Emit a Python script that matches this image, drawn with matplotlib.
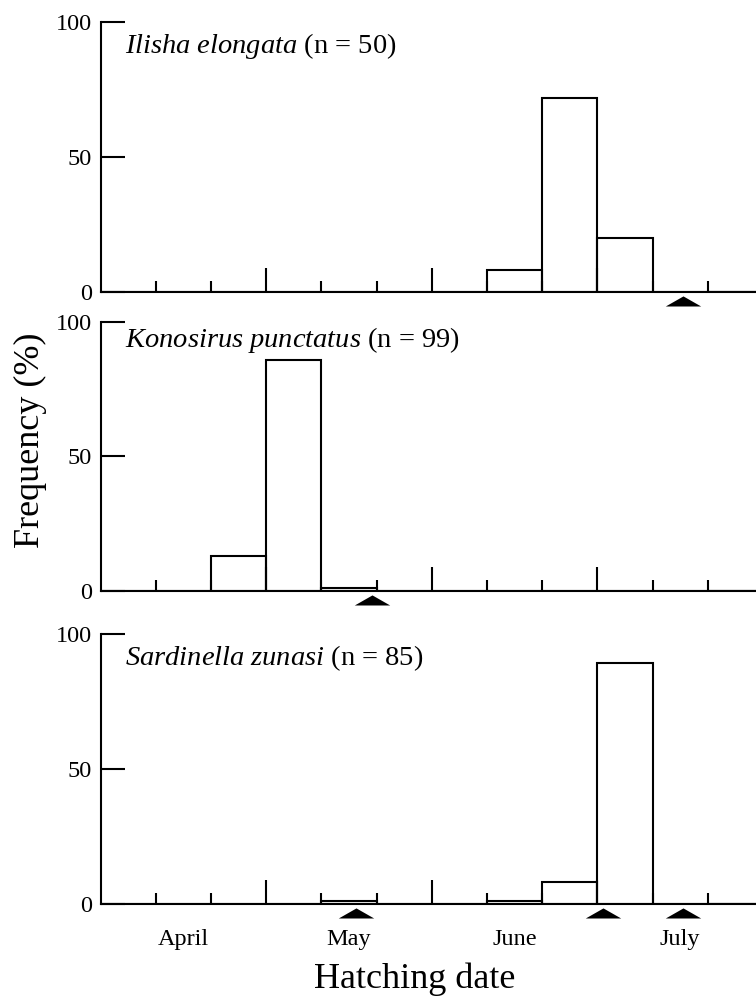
import matplotlib
matplotlib.use("Agg")
import matplotlib.pyplot as plt

plt.rcParams['font.family'] = ['Liberation Serif', 'DejaVu Serif']
plt.rcParams['mathtext.fontset'] = 'custom'
plt.rcParams['mathtext.rm'] = 'Liberation Serif'
plt.rcParams['mathtext.it'] = 'Liberation Serif:italic'

# Data: 10-day bins starting 1 April (bin index 0 = early April)
species = ["Ilisha elongata", "Konosirus punctatus", "Sardinella zunasi"]
sample_n = [50, 99, 85]
bin_starts = list(range(12))
freq_ilisha = [0, 0, 0, 0, 0, 0, 0, 8, 72, 20, 0, 0]
freq_konosirus = [0, 0, 13.1, 85.9, 1.0, 0, 0, 0, 0, 0, 0, 0]
freq_sardinella = [0, 0, 0, 0, 1.2, 0, 0, 1.2, 8.2, 89.4, 0, 0]
frequencies = [freq_ilisha, freq_konosirus, freq_sardinella]
# triangle markers (bin units)
arrows_ilisha = [10.55]
arrows_konosirus = [4.91]
arrows_sardinella = [4.63, 9.1, 10.55]
arrows = [arrows_ilisha, arrows_konosirus, arrows_sardinella]
months = ["April", "May", "June", "July"]
month_centers = [1.5, 4.5, 7.5, 10.5]
month_bounds = [3, 6, 9]
minor_ticks = [1, 2, 4, 5, 7, 8, 10, 11]
yticks = [0, 50, 100]

W, H = 756, 996
fig = plt.figure(figsize=(W / 100, H / 100), dpi=100)

# axes boxes in pixels: (y of 100, y of 0)
boxes = [(22, 292), (321.7, 591), (634.3, 904)]
label_offsets_px = [31, 25, 31]
x0 = 100.8
px_per_bin = 55.17
lw = 1.5
tri = [(-1, 0), (1, 0), (0, 0.57), (-1, 0)]

axes = []
for i, (ytop, ybot) in enumerate(boxes):
    ax = fig.add_axes([x0 / W, 1 - ybot / H, 1 - x0 / W, (ybot - ytop) / H])
    axes.append(ax)
    ax.bar(bin_starts, frequencies[i], width=1, align='edge', fill=False,
           edgecolor='black', linewidth=lw)
    ax.set_xlim(0, (W - x0) / px_per_bin)
    ax.set_ylim(0, 100)
    for s in ['top', 'right']:
        ax.spines[s].set_visible(False)
    for s in ['left', 'bottom']:
        ax.spines[s].set_linewidth(lw)
    ax.set_yticks(yticks)
    ax.tick_params(axis='y', direction='in', length=17, width=lw, pad=6.5,
                   labelsize=17.5)
    ax.set_xticks(month_bounds)
    ax.set_xticks(minor_ticks, minor=True)
    ax.tick_params(axis='x', which='major', direction='in', length=17, width=lw,
                   labelbottom=False)
    ax.tick_params(axis='x', which='minor', direction='in', length=8, width=lw,
                   labelbottom=False)
    px_per_unit = (ybot - ytop) / 100
    ax.plot(arrows[i], [-14 / px_per_unit] * len(arrows[i]), linestyle='none',
            marker=tri, markersize=25.5, markeredgewidth=0, color='black',
            clip_on=False)
    name = species[i].replace(' ', r'\ ')
    ax.text((125 - x0) / px_per_bin, 100 - label_offsets_px[i] / px_per_unit,
            r'$\mathit{' + name + r'}$' + f' (n = {sample_n[i]})',
            fontsize=20.5, va='baseline', ha='left')

ax = axes[-1]
for m, c in zip(months, month_centers):
    ax.text(c, -41 / 269.7, m, transform=ax.get_xaxis_transform(),
            ha='center', va='baseline', fontsize=17.5)

fig.text(415 / W, 1 - 988 / H, "Hatching date", ha='center', va='baseline',
         fontsize=26)
fig.text(30 / W, 1 - 440 / H, "Frequency (%)", rotation=90, ha='center',
         va='center', fontsize=26)

fig.savefig("out.png", dpi=100)
